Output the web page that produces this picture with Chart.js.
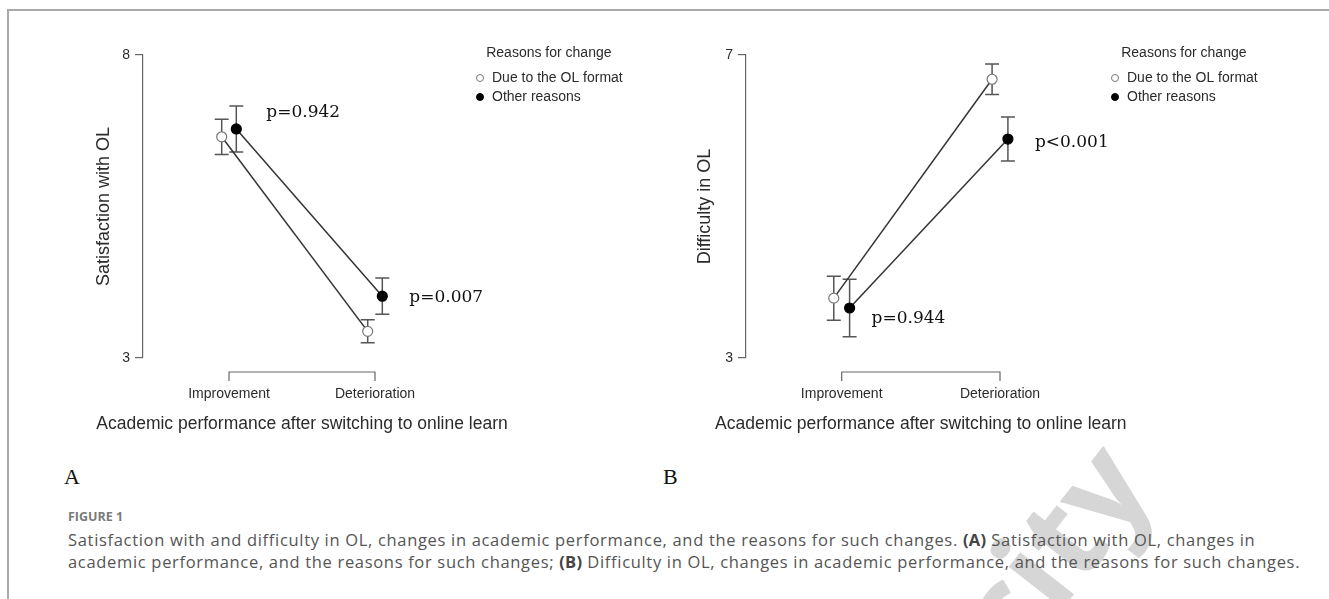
<!DOCTYPE html>
<html>
<head>
<meta charset="utf-8">
<title>Figure 1</title>
<script src="https://cdn.jsdelivr.net/npm/chart.js@4.4.0/dist/chart.umd.min.js"></script>
<style>
  body { margin: 0; background: #fff; }
  #page { position: relative; width: 1329px; height: 599px; overflow: hidden; background: #fff; }
  .frame { position: absolute; left: 7px; top: 9px; width: 1340px; height: 600px;
           border-left: 2px solid #a9a9a9; border-top: 2px solid #a9a9a9; }
  canvas { position: absolute; top: 0; }
  #chartA { left: 0; }
  #chartB { left: 660px; }
  #watermark { position: absolute; left: 935px; top: 462px; font: bold 125px 'Open Sans', sans-serif;
               color: #d6d6d6; transform: rotate(-52deg); transform-origin: center; white-space: nowrap; }
  .tag { position: absolute; top: 466px; font: 22px/22px 'Liberation Serif', serif; color: #111; }
  .fig-no { position: absolute; left: 68px; top: 509px; font: bold 12.5px/16px 'Open Sans', sans-serif; color: #7a7a7a; }
  .caption { position: absolute; left: 68px; top: 529px; font: 16.5px/22px 'Open Sans', sans-serif;
             letter-spacing: 0.68px; color: #555; white-space: nowrap; }
  .caption b { color: #444; letter-spacing: 0.3px; }
</style>
</head>
<body>
<div id="page">
  <div id="watermark">city</div>
  <div class="frame"></div>
  <canvas id="chartA" width="660" height="440"></canvas>
  <canvas id="chartB" width="669" height="440"></canvas>
  <div class="tag" style="left:64px">A</div>
  <div class="tag" style="left:663px">B</div>
  <div class="fig-no">FIGURE 1</div>
  <div class="caption">Satisfaction with and difficulty in OL, changes in academic performance, and the reasons for such changes. <b>(A)</b> Satisfaction with OL, changes in<br>academic performance, and the reasons for such changes; <b>(B)</b> Difficulty in OL, changes in academic performance, and the reasons for such changes.</div>
</div>
<script>
// categories and series
const categories = ['Improvement', 'Deterioration'];
const seriesNames = ['Due to the OL format', 'Other reasons'];
const xTitle = 'Academic performance after switching to online learn';

// panel A: satisfaction with OL (means and error half-widths)
const satDueMean = [6.65, 3.44];
const satDueErr = [0.29, 0.19];
const satOtherMean = [6.78, 4.02];
const satOtherErr = [0.38, 0.30];
const satTicks = [3, 8];
const satPValues = ['p=0.942', 'p=0.007'];

// panel B: difficulty in OL
const difDueMean = [3.79, 6.68];
const difDueErr = [0.29, 0.20];
const difOtherMean = [3.66, 5.89];
const difOtherErr = [0.38, 0.29];
const difTicks = [3, 7];
const difPValues = ['p=0.944', 'p<0.001'];

const SANS = "'Liberation Sans', Arial, sans-serif";
const INK = '#2b2b2b';
const AXIS = '#666';
const DODGE = 0.05;

// error bars under the points
const errorBars = {
  id: 'errorBars',
  beforeDatasetsDraw(chart) {
    const { ctx, scales: { y } } = chart;
    ctx.save();
    ctx.strokeStyle = '#555';
    ctx.lineWidth = 1.5;
    chart.data.datasets.forEach((ds, i) => {
      chart.getDatasetMeta(i).data.forEach((pt, j) => {
        const v = ds.data[j].y, e = ds.errors[j];
        const top = y.getPixelForValue(v + e), bot = y.getPixelForValue(v - e);
        ctx.beginPath();
        ctx.moveTo(pt.x, top); ctx.lineTo(pt.x, bot);
        ctx.moveTo(pt.x - 7, top); ctx.lineTo(pt.x + 7, top);
        ctx.moveTo(pt.x - 7, bot); ctx.lineTo(pt.x + 7, bot);
        ctx.stroke();
      });
    });
    ctx.restore();
  }
};

// R style x axis: bracket from first to last category, labels, title
const bracketAxis = {
  id: 'bracketAxis',
  afterDraw(chart, args, opts) {
    const { ctx, scales: { x } } = chart;
    const xs = categories.map((c, i) => x.getPixelForValue(i + 1));
    ctx.save();
    ctx.strokeStyle = AXIS;
    ctx.lineWidth = 1.2;
    ctx.beginPath();
    ctx.moveTo(xs[0], opts.y + 9); ctx.lineTo(xs[0], opts.y);
    ctx.lineTo(xs[xs.length - 1], opts.y); ctx.lineTo(xs[xs.length - 1], opts.y + 9);
    ctx.stroke();
    ctx.fillStyle = INK;
    ctx.textAlign = 'center';
    ctx.textBaseline = 'middle';
    ctx.font = '14px ' + SANS;
    categories.forEach((c, i) => ctx.fillText(c, xs[i], opts.y + 22));
    ctx.font = '17.5px ' + SANS;
    ctx.fillText(xTitle, (xs[0] + xs[xs.length - 1]) / 2, opts.y + 52);
    ctx.restore();
  }
};

// legend with title, drawn like the R one
const rLegend = {
  id: 'rLegend',
  afterDraw(chart, args, opts) {
    const { ctx } = chart;
    ctx.save();
    ctx.font = '14px ' + SANS;
    const textX = opts.x + 12;
    const widest = Math.max(...chart.data.datasets.map(d => ctx.measureText(d.label).width));
    const mid = (opts.x - 5 + textX + widest) / 2;
    ctx.fillStyle = INK;
    ctx.textBaseline = 'middle';
    ctx.textAlign = 'center';
    ctx.fillText(opts.title, mid, opts.y);
    ctx.textAlign = 'left';
    chart.data.datasets.forEach((d, i) => {
      const yy = opts.y + 25 + i * 19;
      ctx.beginPath();
      ctx.arc(opts.x, yy, 3.5, 0, Math.PI * 2);
      ctx.fillStyle = d.pointBackgroundColor;
      ctx.fill();
      ctx.lineWidth = 1;
      ctx.strokeStyle = d.pointBorderColor;
      ctx.stroke();
      ctx.fillStyle = INK;
      ctx.fillText(d.label, textX, yy);
    });
    ctx.restore();
  }
};

// p-value notes next to the "Other reasons" points
const pNotes = {
  id: 'pNotes',
  afterDatasetsDraw(chart, args, opts) {
    const { ctx } = chart;
    ctx.save();
    ctx.font = "17px 'DejaVu Serif', serif";
    ctx.fillStyle = '#111';
    ctx.textBaseline = 'middle';
    opts.items.forEach(n => {
      const pt = chart.getDatasetMeta(1).data[n.idx];
      ctx.fillText(n.text, pt.x + n.dx, pt.y + n.dy);
    });
    ctx.restore();
  }
};

function makeSeries(label, means, errs, shift, fill, border) {
  return {
    label: label,
    data: means.map((m, i) => ({ x: i + 1 + shift, y: m })),
    errors: errs,
    borderColor: '#333',
    borderWidth: 1.5,
    tension: 0,
    pointRadius: 5,
    pointHoverRadius: 5,
    pointBackgroundColor: fill,
    pointBorderColor: border,
    pointBorderWidth: 1.2
  };
}

function makePanel(id, p) {
  new Chart(document.getElementById(id), {
    type: 'line',
    data: {
      datasets: [
        makeSeries(seriesNames[0], p.due, p.dueErr, -DODGE, '#fff', '#777'),
        makeSeries(seriesNames[1], p.other, p.otherErr, DODGE, '#000', '#000')
      ]
    },
    options: {
      responsive: false,
      animation: false,
      devicePixelRatio: 1,
      layout: { padding: { left: p.padLeft, top: 55, bottom: 82, right: p.padRight } },
      scales: {
        x: { type: 'linear', display: false, min: p.xMin, max: p.xMax },
        y: {
          min: p.ticks[0],
          max: p.ticks[p.ticks.length - 1],
          afterBuildTicks: s => { s.ticks = p.ticks.map(v => ({ value: v })); },
          afterFit: s => { s.width = p.axisWidth; },
          border: { display: true, color: AXIS, width: 1.2 },
          grid: { drawOnChartArea: false, drawTicks: true, tickLength: 8, color: AXIS, lineWidth: 1.2 },
          ticks: { color: INK, padding: 5, font: { size: 14, family: SANS } },
          title: { display: true, text: p.yTitle, color: INK, padding: { top: 13, bottom: 0 },
                   font: { size: 18, family: SANS } }
        }
      },
      plugins: {
        legend: { display: false },
        tooltip: { enabled: false },
        bracketAxis: { y: 372 },
        rLegend: { x: p.legendX, y: 53, title: 'Reasons for change' },
        pNotes: { items: p.notes }
      }
    },
    plugins: [errorBars, bracketAxis, rLegend, pNotes]
  });
}

makePanel('chartA', {
  due: satDueMean, dueErr: satDueErr, other: satOtherMean, otherErr: satOtherErr,
  ticks: satTicks, yTitle: 'Satisfaction with OL',
  padLeft: 80, axisWidth: 63, padRight: 20, xMin: 0.411, xMax: 3.815,
  legendX: 480,
  notes: [
    { text: satPValues[0], idx: 0, dx: 30, dy: -16 },
    { text: satPValues[1], idx: 1, dx: 27, dy: 1 }
  ]
});

makePanel('chartB', {
  due: difDueMean, dueErr: difDueErr, other: difOtherMean, otherErr: difOtherErr,
  ticks: difTicks, yTitle: 'Difficulty in OL',
  padLeft: 21, axisWidth: 65, padRight: 20, xMin: 0.3955, xMax: 3.952,
  legendX: 455,
  notes: [
    { text: difPValues[0], idx: 0, dx: 22, dy: 11 },
    { text: difPValues[1], idx: 1, dx: 27, dy: 3 }
  ]
});
</script>
</body>
</html>
